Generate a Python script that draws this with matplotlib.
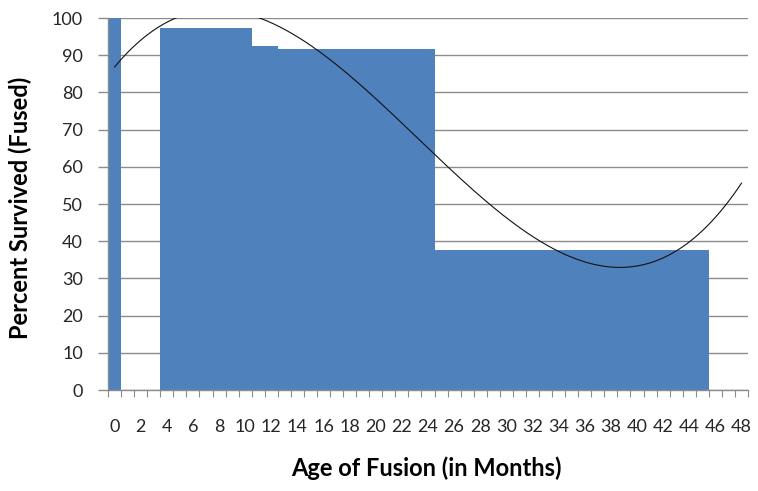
import numpy as np
import matplotlib
matplotlib.use('Agg')
import matplotlib.pyplot as plt
from matplotlib.ticker import MultipleLocator, FixedLocator

plt.rcParams['font.family'] = ['Lato', 'DejaVu Sans']

# age of fusion, months (one category per month)
months = list(range(49))
nan = np.nan
survived = [100, nan, nan, nan,
            97.2, 97.2, 97.2, 97.2, 97.2, 97.2, 97.2,
            92.6, 92.6,
            91.6, 91.6, 91.6, 91.6, 91.6, 91.6, 91.6, 91.6, 91.6, 91.6, 91.6, 91.6,
            37.6, 37.6, 37.6, 37.6, 37.6, 37.6, 37.6, 37.6, 37.6, 37.6, 37.6,
            37.6, 37.6, 37.6, 37.6, 37.6, 37.6, 37.6, 37.6, 37.6, 37.6,
            nan, nan, nan]

trend_x = [0, 4.9, 10.9, 16.5, 24.5, 38.7, 48]
trend_y = [87, 100, 100, 89.5, 63, 33, 55.6]

fig = plt.figure(figsize=(7.58, 4.91), dpi=100)
ax = fig.add_axes([0.1425, 0.2057, 0.8443, 0.7576])

ax.bar(months, survived, width=1.0, color='#4F81BD', zorder=2)

coef = np.polyfit(trend_x, trend_y, 3)
xs = np.linspace(0, 48, 300)
ax.plot(xs, np.polyval(coef, xs), color='#111111', lw=0.8, zorder=3)

ax.set_xlim(-0.5, 48.5)
ax.set_ylim(0, 100)
ax.yaxis.set_major_locator(MultipleLocator(10))
ax.grid(axis='y', color='#8c8c8c', lw=1, zorder=0)
ax.set_axisbelow(True)

ax.xaxis.set_major_locator(FixedLocator(months[::2]))
ax.set_xticklabels([str(m) for m in months[::2]])
ax.xaxis.set_minor_locator(FixedLocator(np.arange(-0.5, 49, 1)))
ax.tick_params(axis='x', which='major', length=0, pad=21, labelsize=13, labelcolor='#262626')
ax.tick_params(axis='x', which='minor', length=5, width=0.8, color='#8c8c8c', direction='out')
ax.tick_params(axis='y', length=7, width=1, color='#8c8c8c', pad=11, labelsize=13, labelcolor='#262626')

for s in ['top', 'right']:
    ax.spines[s].set_visible(False)
for s in ['left', 'bottom']:
    ax.spines[s].set_color('#8c8c8c')
    ax.spines[s].set_linewidth(1)

ax.set_xlabel('Age of Fusion (in Months)', fontsize=17, fontweight='bold', va='center')
ax.set_ylabel('Percent Survived (Fused)', fontsize=17, fontweight='bold', va='center')
ax.xaxis.set_label_coords(0.497, -0.21)
ax.yaxis.set_label_coords(-0.1375, 0.49)

fig.savefig('out.png', dpi=100)
